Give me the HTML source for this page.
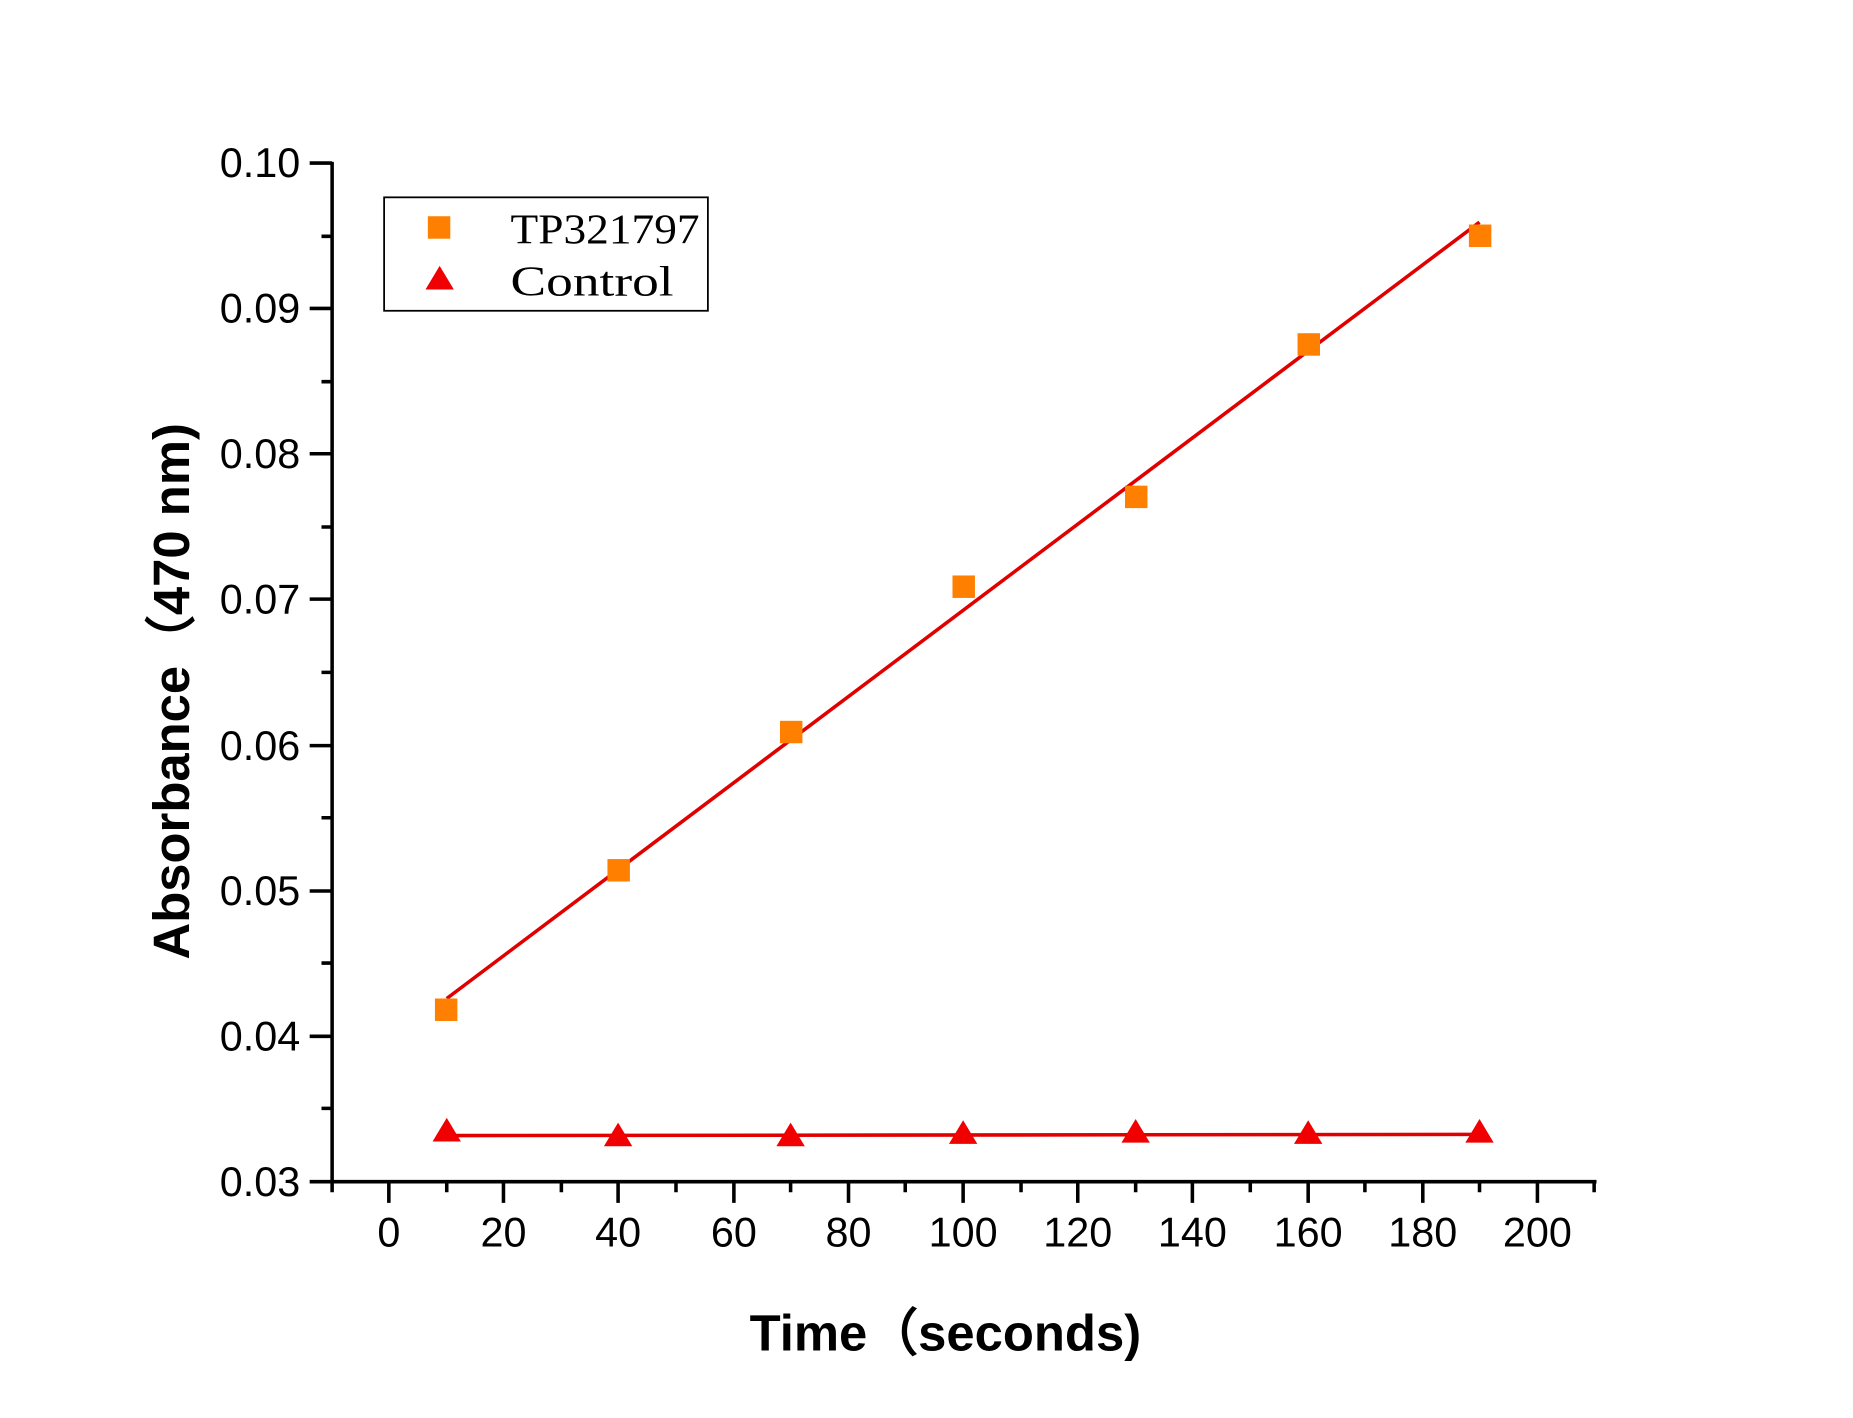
<!DOCTYPE html>
<html><head><meta charset="utf-8"><style>html,body{margin:0;padding:0;background:#fff}svg{display:block}</style></head>
<body>
<svg width="1853" height="1418" viewBox="0 0 1568 1200" xmlns="http://www.w3.org/2000/svg">
<rect width="1568" height="1200" fill="#fff"/>
<g stroke="#000" stroke-width="3" fill="none">
<line x1="281" y1="137" x2="281" y2="1001"/>
<line x1="280" y1="1000" x2="1351" y2="1000"/>
<path d="M262 138H281M262 261H281M262 384H281M262 507H281M262 631H281M262 754H281M262 877H281M262 1000H281"/>
<path d="M272 200H281M272 323H281M272 446H281M272 569H281M272 692H281M272 815H281M272 938H281"/>
<path d="M329 1000V1018M426 1000V1018M523 1000V1018M621 1000V1018M718 1000V1018M815 1000V1018M912 1000V1018M1009 1000V1018M1107 1000V1018M1204 1000V1018M1301 1000V1018"/>
<path d="M281 1000V1009M378 1000V1009M475 1000V1009M572 1000V1009M669 1000V1009M766 1000V1009M864 1000V1009M961 1000V1009M1058 1000V1009M1155 1000V1009M1252 1000V1009M1349 1000V1009"/>
</g>
<g font-family="Liberation Sans, sans-serif" font-size="35" fill="#000" text-anchor="end">
<text x="254" y="150">0.10</text><text x="254" y="273">0.09</text><text x="254" y="396">0.08</text><text x="254" y="519">0.07</text><text x="254" y="643">0.06</text><text x="254" y="766">0.05</text><text x="254" y="889">0.04</text><text x="254" y="1012">0.03</text>
</g>
<g font-family="Liberation Sans, sans-serif" font-size="35" fill="#000" text-anchor="middle">
<text x="329" y="1055">0</text><text x="426" y="1055">20</text><text x="523" y="1055">40</text><text x="621" y="1055">60</text><text x="718" y="1055">80</text><text x="815" y="1055">100</text><text x="912" y="1055">120</text><text x="1009" y="1055">140</text><text x="1107" y="1055">160</text><text x="1204" y="1055">180</text><text x="1301" y="1055">200</text>
</g>
<text x="800" y="1143" font-family="Liberation Sans, sans-serif" font-size="43" font-weight="600" text-anchor="middle">Time（seconds)</text>
<text transform="translate(160,585) rotate(-90)" font-family="Liberation Sans, sans-serif" font-size="43" font-weight="600" text-anchor="middle">Absorbance（470 nm)</text>
<line x1="378" y1="845" x2="1252" y2="188" stroke="#e00000" stroke-width="3"/>
<line x1="378" y1="961" x2="1252" y2="960" stroke="#e00000" stroke-width="3"/>
<g fill="#ff7f00">
<rect x="368" y="845" width="19" height="19"/><rect x="514" y="727" width="19" height="19"/><rect x="660" y="610" width="19" height="19"/><rect x="806" y="487" width="19" height="19"/><rect x="952" y="411" width="19" height="19"/><rect x="1098" y="282" width="19" height="19"/><rect x="1243" y="190" width="19" height="19"/>
</g>
<g fill="#f00000">
<path d="M378 946l12 20h-24z"/><path d="M523 950l12 20h-24z"/><path d="M669 950l12 20h-24z"/><path d="M815 948l12 20h-24z"/><path d="M961 947l12 20h-24z"/><path d="M1107 948l12 20h-24z"/><path d="M1252 947l12 20h-24z"/>
</g>
<rect x="325" y="167" width="274" height="96" fill="none" stroke="#000" stroke-width="1.5"/>
<rect x="362" y="183" width="19" height="19" fill="#ff7f00"/>
<path d="M372 225l12 20h-24z" fill="#f00000"/>
<g font-family="Liberation Serif, serif" font-size="36" fill="#000">
<text x="432" y="206" textLength="160" lengthAdjust="spacingAndGlyphs">TP321797</text><text x="432" y="250" textLength="138" lengthAdjust="spacingAndGlyphs">Control</text>
</g>
</svg>
</body></html>
